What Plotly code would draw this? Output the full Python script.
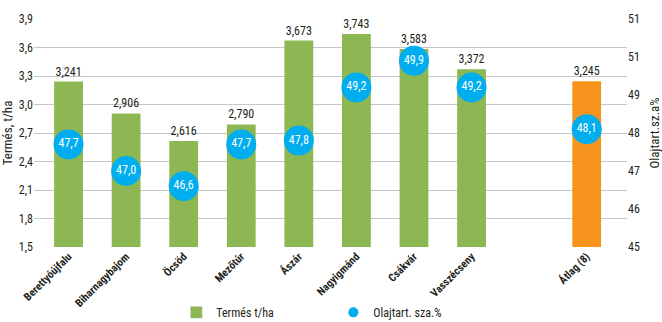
import plotly.graph_objects as go

# Locations and the average column (one empty slot before the average)
categories = ["Berettyóújfalu", "Biharnagybajom", "Öcsöd", "Mezőtúr", "Ászár",
              "Nagyigmánd", "Csákvár", "Vasszécseny", "Átlag (8)"]
slot_index = [0, 1, 2, 3, 4, 5, 6, 7, 9]
yield_t_ha = [3.241, 2.906, 2.616, 2.790, 3.673, 3.743, 3.583, 3.372, 3.245]
oil_pct = [47.7, 47.0, 46.6, 47.7, 47.8, 49.2, 49.9, 49.2, 48.1]

left_ticks = [1.5, 1.8, 2.1, 2.4, 2.7, 3.0, 3.3, 3.6, 3.9]
right_tickvals = [45, 46, 47, 48, 49, 50, 51]
right_ticktext = ["45", "46", "47", "48", "49", "51", "51"]

GREEN = "#8cb752"
ORANGE = "#f7941e"
BLUE = "#00aeef"
INK = "#231f20"
FONT = "Liberation Sans Narrow, Roboto Condensed, Roboto, sans-serif"

bar_colors = [GREEN] * (len(categories) - 1) + [ORANGE]

fig = go.Figure()

fig.add_trace(go.Bar(
    x=slot_index, y=yield_t_ha, name="Termés t/ha",
    marker=dict(color=bar_colors, line=dict(width=0)),
    width=0.5,
    texttemplate="%{y:.3f}", textposition="outside",
    textfont=dict(family=FONT, size=12, color=INK),
    cliponaxis=False,
    showlegend=False,
))

fig.add_trace(go.Scatter(
    x=slot_index, y=oil_pct, yaxis="y2",
    mode="markers+text",
    marker=dict(size=30, color=BLUE),
    texttemplate="%{y:.1f}", textposition="middle center",
    textfont=dict(family=FONT, size=12, color="white"),
    cliponaxis=False,
    showlegend=False,
))

# Legend entries
fig.add_trace(go.Bar(x=[None], y=[None], name="Termés t/ha",
                     marker=dict(color=GREEN), showlegend=True))
fig.add_trace(go.Scatter(x=[None], y=[None], yaxis="y2", name="Olajtart. sza.%",
                         mode="markers", marker=dict(size=10, color=BLUE),
                         showlegend=True))

fig.update_layout(
    width=662, height=322,
    margin=dict(l=34, r=35, t=19, b=75),
    paper_bgcolor="white", plot_bgcolor="white",
    separators=", ",
    font=dict(family=FONT, color=INK, size=12),
    bargap=0.5,
    xaxis=dict(
        range=[-0.6, 9.7], automargin=False,
        tickvals=slot_index, ticktext=categories,
        tickangle=-45,
        tickfont=dict(family=FONT, size=11, color=INK, weight="bold"),
        showgrid=False, zeroline=False, showline=False, ticks="",
    ),
    yaxis=dict(
        range=[1.5, 3.9], tickvals=left_ticks, tickformat=".1f",
        automargin=False,
        showgrid=True, gridcolor="#c6c6c6", gridwidth=1,
        zeroline=False, showline=False, ticks="",
        tickfont=dict(family=FONT, size=12, color=INK),
        title=dict(text="Termés, t/ha",
                   font=dict(family=FONT, size=13, color=INK)),
    ),
    yaxis2=dict(
        overlaying="y", side="right",
        range=[45, 51], tickvals=right_tickvals, ticktext=right_ticktext,
        automargin=False,
        showgrid=False, zeroline=False, showline=False, ticks="",
        tickfont=dict(family=FONT, size=12, color=INK),
        title=dict(text="Olajtart.sz.a%",
                   font=dict(family=FONT, size=13, color=INK)),
    ),
    legend=dict(
        orientation="h", x=0.24, y=0.03, yref="container",
        xanchor="left", yanchor="middle",
        entrywidth=112, font=dict(family=FONT, size=12, color=INK),
        bgcolor="rgba(0,0,0,0)",
    ),
)

fig.write_html("out.html")
